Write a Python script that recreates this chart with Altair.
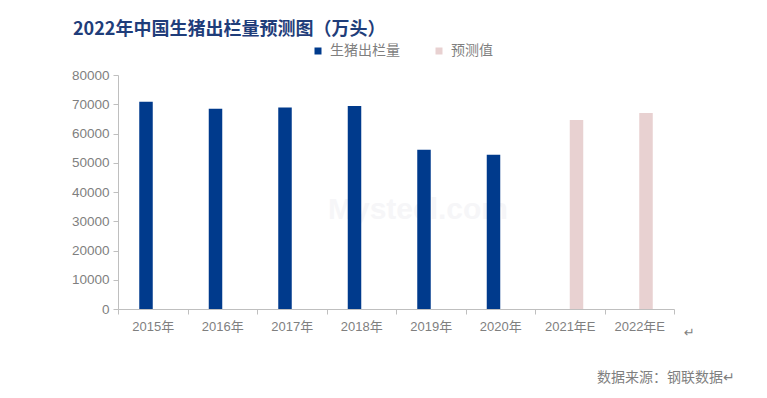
import altair as alt
import pandas as pd

categories = ["2015年", "2016年", "2017年", "2018年", "2019年", "2020年", "2021年E", "2022年E"]
actual = [70825, 68502, 68861, 69382, 54419, 52704, None, None]
forecast = [None, None, None, None, None, None, 64600, 67000]
series_names = ["生猪出栏量", "预测值"]
series_colors = ["#003A8C", "#E8D1D1"]
y_ticks = [0, 10000, 20000, 30000, 40000, 50000, 60000, 70000, 80000]

title_text = "2022年中国生猪出栏量预测图（万头）"
source_text = "数据来源：钢联数据↵"

rows = []
for c, a, f in zip(categories, actual, forecast):
    if a is not None:
        rows.append({"cat": c, "series": series_names[0], "value": a})
    if f is not None:
        rows.append({"cat": c, "series": series_names[1], "value": f})
df = pd.DataFrame(rows)

LAB = "#7F7F7F"
AX = "#BFBFBF"
FONT = "Liberation Sans, Noto Sans CJK SC"

bars = alt.Chart(df).mark_bar(
    width=13.5,
    xOffset=alt.expr("datum.series === '预测值' ? 6.75 : -6.75"),
).encode(
    x=alt.X("cat:N", sort=categories,
            scale=alt.Scale(paddingInner=0, paddingOuter=0),
            axis=alt.Axis(title=None, labelAngle=0, tickBand="extent",
                          domainColor=AX, tickColor=AX, tickSize=5,
                          labelColor=LAB, labelFontSize=13, labelFont=FONT,
                          labelPadding=6)),
    y=alt.Y("value:Q", scale=alt.Scale(domain=[0, 80000], nice=False),
            axis=alt.Axis(title=None, values=y_ticks, grid=False, format="d",
                          domainColor=AX, tickColor=AX, tickSize=5,
                          labelColor=LAB, labelFontSize=13.5, labelFont=FONT,
                          labelPadding=4)),
    color=alt.Color("series:N", sort=series_names,
                    scale=alt.Scale(domain=series_names, range=series_colors),
                    legend=alt.Legend(title=None, orient="none", legendX=193, legendY=-31,
                                      direction="horizontal", symbolType="square",
                                      symbolSize=49, symbolStrokeWidth=0,
                                      labelFontSize=14, labelColor=LAB,
                                      labelFont="Noto Sans CJK SC", columnPadding=32,
                                      labelOffset=5)),
)

wm = alt.Chart(pd.DataFrame({"t": ["Mysteel.com"]})).mark_text(
    fontSize=30, font="Liberation Sans", fontWeight="bold", color="#F6F6F8", align="center", baseline="middle"
).encode(text="t:N", x=alt.value(300), y=alt.value(135))

title = alt.Chart(pd.DataFrame({"t": [title_text]})).mark_text(
    fontSize=18, font="Noto Sans CJK SC", fontWeight="bold", color="#1F3D7A", align="left", baseline="middle"
).encode(text="t:N", x=alt.value(-45), y=alt.value(-45))

source = alt.Chart(pd.DataFrame({"t": [source_text]})).mark_text(
    fontSize=14, font="Noto Sans CJK SC", color=LAB, align="right", baseline="middle"
).encode(text="t:N", x=alt.value(617), y=alt.value(303))

ret = alt.Chart(pd.DataFrame({"t": ["↵"]})).mark_text(
    fontSize=13, font="DejaVu Sans", color=LAB, align="left", baseline="middle"
).encode(text="t:N", x=alt.value(566), y=alt.value(258))

chart = alt.layer(wm, bars, title, source, ret).properties(
    width=556, height=234,
    autosize=alt.AutoSizeParams(type="none"),
    padding={"left": 110, "top": 67, "right": 85, "bottom": 81},
).configure_view(stroke=None)

chart.save("out.html", embed_options={"renderer": "svg", "actions": False})
